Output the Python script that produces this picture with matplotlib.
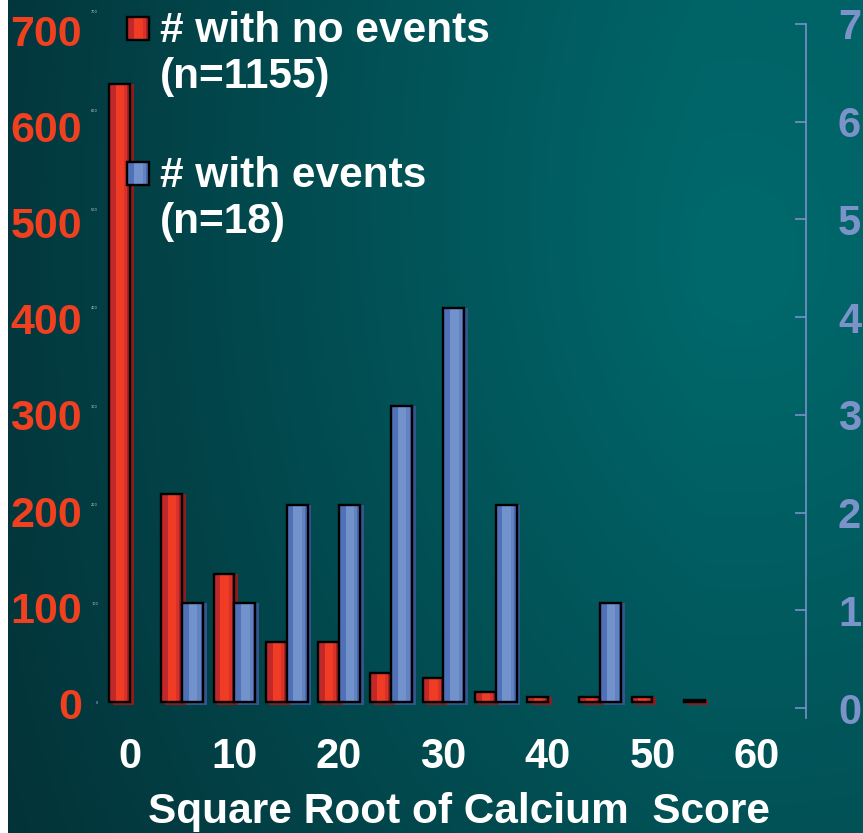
import numpy as np
import matplotlib
matplotlib.use("Agg")
import matplotlib.pyplot as plt
from matplotlib.patches import Rectangle

# bins of sqrt(calcium score), counts per bin
bins = [0, 5, 10, 15, 20, 25, 30, 35, 40, 45, 50, 55]
no_events = [627, 211, 130, 61, 61, 29, 24, 10, 5, 5, 5, 2]
with_events = [0, 1, 1, 2, 2, 3, 4, 2, 0, 1, 0, 0]

xticks = [0, 10, 20, 30, 40, 50, 60]
left_ticks = [0, 100, 200, 300, 400, 500, 600, 700]
right_ticks = [0, 1, 2, 3, 4, 5, 6, 7]

legend_labels = [("# with no events", "(n=1155)"), ("# with events", "(n=18)")]
xlabel = "Square Root of Calcium  Score"

W, H = 863, 833
FONT = "Liberation Sans"

def box(left, right, top, bottom):
    # pixel box (from top-left) -> figure fraction rect
    return [left / W, 1 - bottom / H, (right - left) / W, (bottom - top) / H]

fig = plt.figure(figsize=(W / 100, H / 100), dpi=100, facecolor="white")

# background gradient
bg = fig.add_axes(box(8, W, 0, H), zorder=0)
yy, xx = np.mgrid[0:H, 0:W - 8]
d = np.sqrt(((xx + 8 - 740) / 1.0) ** 2 + ((yy - 280) / 1.15) ** 2)
f_rad = np.clip(1 - d / 950, 0, 1)
f_hor = np.clip((xx + 8) / 700, 0, 1)
f = 0.55 * f_rad + 0.45 * f_hor * (1 - 0.35 * yy / H)
dark = np.array([3, 48, 54]) / 255
teal = np.array([0, 108, 111]) / 255
img = dark[None, None, :] * (1 - f[..., None]) + teal[None, None, :] * f[..., None]
bg.imshow(np.clip(img, 0, 1), aspect="auto", interpolation="bilinear")
bg.axis("off")

# main axes: red bars + tiny tick labels
ax = fig.add_axes(box(100, 806, 5, 718), zorder=2)
ax.set_facecolor("none")
ax.set_xlim(-2.87, 64.69)
ax.set_ylim(-16.23, 707.1)
for s in ax.spines.values():
    s.set_visible(False)
ax.set_yticks(left_ticks)
ax.set_yticklabels([str(t) for t in left_ticks])
ax.tick_params(axis="y", length=0, pad=1.5, labelsize=2.5, labelcolor="#c8d0d0")
ax.set_xticks(xticks)
ax.set_xticklabels([str(t) for t in xticks])
ax.tick_params(axis="x", length=0, pad=14, labelsize=30, labelcolor="white")
for lab in ax.get_xticklabels():
    lab.set_fontfamily(FONT)
    lab.set_fontweight("bold")

# blue bars on a hidden twin (same scale /100)
axb = fig.add_axes(box(100, 806, 5, 718), zorder=3, sharex=ax)
axb.set_facecolor("none")
axb.set_ylim(-0.1623, 7.071)
axb.axis("off")

def striped_bars(a, x, vals, shadow_drop, stripes, shadow_col):
    x = np.asarray(x, dtype=float)
    vals = np.asarray(vals, dtype=float)
    keep = vals > 0
    x, vals = x[keep], vals[keep]
    a.bar(x + 0.35, vals + shadow_drop, bottom=-shadow_drop, width=2,
          align="edge", color=shadow_col, linewidth=0, zorder=1)
    for (s0, s1, c) in stripes:
        a.bar(x + 2 * s0, vals, width=2 * (s1 - s0), align="edge",
              color=c, linewidth=0, zorder=2)
    a.bar(x, vals, width=2, align="edge", facecolor="none",
          edgecolor="black", linewidth=1.7, zorder=3)

red_stripes = [(0, 0.32, "#c0282a"), (0.32, 0.72, "#f03c24"),
               (0.72, 0.86, "#d8302a"), (0.86, 1.0, "#a82222")]
blue_stripes = [(0, 0.32, "#5070b8"), (0.32, 0.72, "#7292cc"),
                (0.72, 0.88, "#6282c2"), (0.88, 1.0, "#4a68ac")]

striped_bars(ax, np.array(bins) - 2, no_events, 3, red_stripes, "#8e1c1c")
striped_bars(axb, np.array(bins), with_events, 0.03, blue_stripes, "#34548e")

# big red labels for the left scale
axl = fig.add_axes(box(100, 806, 5, 718), zorder=1)
axl.set_facecolor("none")
axl.set_ylim(-15.07, 726.0)
axl.set_xticks([])
for s in axl.spines.values():
    s.set_visible(False)
axl.set_yticks(left_ticks)
axl.set_yticklabels([str(t) for t in left_ticks])
axl.tick_params(axis="y", length=0, pad=13, labelsize=31, labelcolor="#f0401f")
for lab in axl.get_yticklabels():
    lab.set_fontfamily(FONT)
    lab.set_fontweight("bold")

# right scale
axr = fig.add_axes(box(100, 806, 24, 718), zorder=1)
axr.set_facecolor("none")
axr.set_ylim(-0.1023, 7)
axr.set_xticks([])
for k in ["left", "top", "bottom"]:
    axr.spines[k].set_visible(False)
axr.spines["right"].set_color("#7a90c8")
axr.spines["right"].set_linewidth(1.2)
axr.yaxis.tick_right()
axr.set_yticks(right_ticks)
axr.set_yticklabels([str(t) for t in right_ticks])
axr.tick_params(axis="y", direction="in", length=8, width=1.2, color="#7a90c8",
                pad=23, labelsize=30, labelcolor="#7b93c9")
for lab in axr.get_yticklabels():
    lab.set_fontfamily(FONT)
    lab.set_fontweight("bold")

# legend
def legend_square(top, stripes):
    left, size_w, size_h = 127, 22, 23
    for (s0, s1, c) in stripes:
        fig.add_artist(Rectangle(((left + s0 * size_w) / W, 1 - (top + size_h) / H),
                                 (s1 - s0) * size_w / W, size_h / H,
                                 transform=fig.transFigure, facecolor=c,
                                 linewidth=0, zorder=5))
    fig.add_artist(Rectangle((left / W, 1 - (top + size_h) / H), size_w / W, size_h / H,
                             transform=fig.transFigure, facecolor="none",
                             edgecolor="black", linewidth=1.7, zorder=6))

legend_square(17, red_stripes)
legend_square(162, blue_stripes)
for (l1, l2), b1 in zip(legend_labels, [42, 187]):
    fig.text(160 / W, 1 - b1 / H, l1, fontsize=30.5, color="white",
             fontweight="bold", family=FONT, va="baseline", zorder=6)
    fig.text(160 / W, 1 - (b1 + 46) / H, l2, fontsize=30.5, color="white",
             fontweight="bold", family=FONT, va="baseline", zorder=6)

fig.text(459 / W, 1 - 823 / H, xlabel, fontsize=30.5, color="white",
         fontweight="bold", family=FONT, ha="center", va="baseline", zorder=6)

fig.savefig("out.png", dpi=100, facecolor=fig.get_facecolor())
